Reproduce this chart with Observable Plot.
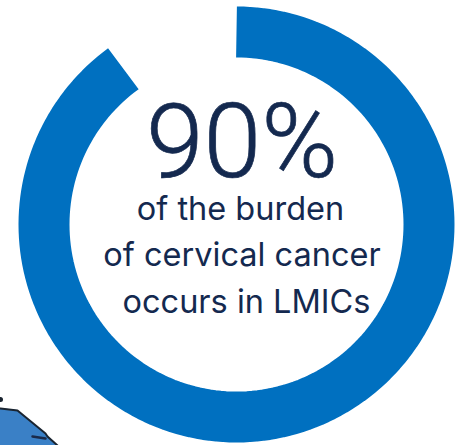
<!DOCTYPE html>
<html>
<head>
<meta charset="utf-8">
<script src="https://cdn.jsdelivr.net/npm/d3@7"></script>
<script src="https://cdn.jsdelivr.net/npm/@observablehq/plot@0.6"></script>
<style>
  html, body { margin: 0; padding: 0; background: #fff; }
  svg { display: block; }
</style>
</head>
<body>
<script>
// Share of the cervical cancer burden carried by LMICs, in percent
const burdenShare = [90];
const headline = ["90%"];
const captionLines = ["of the burden", "of cervical cancer", "occurs in LMICs"];

// Ring geometry in page units
const ringCentre = [236, 224];
const ringRadius = 192.5;
const ringWidth = 51;

// Fragment of the map silhouette in the lower left corner
const mapX = [0, 17, 45, 47, 57];
const mapY = [408, 410, 433, 436, 445];
const mapSpeckX = [32, 45];
const mapSpeckY = [436, 438];
const mapDotX = [0];
const mapDotY = [399];

// Sweep clockwise from twelve o'clock, one point per half percent
const sweep = d3.range(0, burdenShare[0] * 2 + 1).map((i) => {
  const a = ((i / 2) / 100) * 2 * Math.PI;
  return {
    x: ringCentre[0] + ringRadius * Math.sin(a),
    y: ringCentre[1] - ringRadius * Math.cos(a)
  };
});

const mapEdge = mapX.map((x, i) => ({x, y: mapY[i]}));
const mapSpeck = mapSpeckX.map((x, i) => ({x, y: mapSpeckY[i]}));

const ink = "#14294f";

const chart = Plot.plot({
  width: 457,
  height: 445,
  margin: 0,
  x: {domain: [0, 457], axis: null},
  y: {domain: [0, 445], reverse: true, axis: null},
  marks: [
    Plot.line(sweep, {
      x: "x", y: "y",
      stroke: "#0070c0",
      strokeWidth: ringWidth,
      strokeLinecap: "butt",
      strokeLinejoin: "round"
    }),
    Plot.areaY(mapEdge, {
      x: "x", y1: "y", y2: () => 445, fill: "#3a80c6"
    }),
    Plot.line(mapEdge, {x: "x", y: "y", stroke: "#1a2430", strokeWidth: 2}),
    Plot.line(mapSpeck, {x: "x", y: "y", stroke: "#1a2a4a", strokeWidth: 2.5}),
    Plot.dot(mapDotX, {x: (d) => d, y: (d, i) => mapDotY[i], r: 2.5, fill: "#1a2430"}),
    Plot.text(headline, {
      x: () => 241.5, y: () => 176,
      text: (d) => d,
      fontFamily: "Roboto, sans-serif", fontWeight: 300, fontSize: 104,
      fill: ink, stroke: ink, strokeWidth: 0.7,
      textAnchor: "middle", lineAnchor: "bottom"
    }),
    Plot.text(captionLines, {
      x: (d, i) => [240, 241.5, 246][i],
      y: (d, i) => [219, 265, 312][i],
      text: (d) => d,
      fontFamily: "Inter, sans-serif", fontWeight: 400, fontSize: 32.5,
      fill: ink, textAnchor: "middle", lineAnchor: "bottom"
    })
  ]
});
document.body.append(chart);
</script>
</body>
</html>
